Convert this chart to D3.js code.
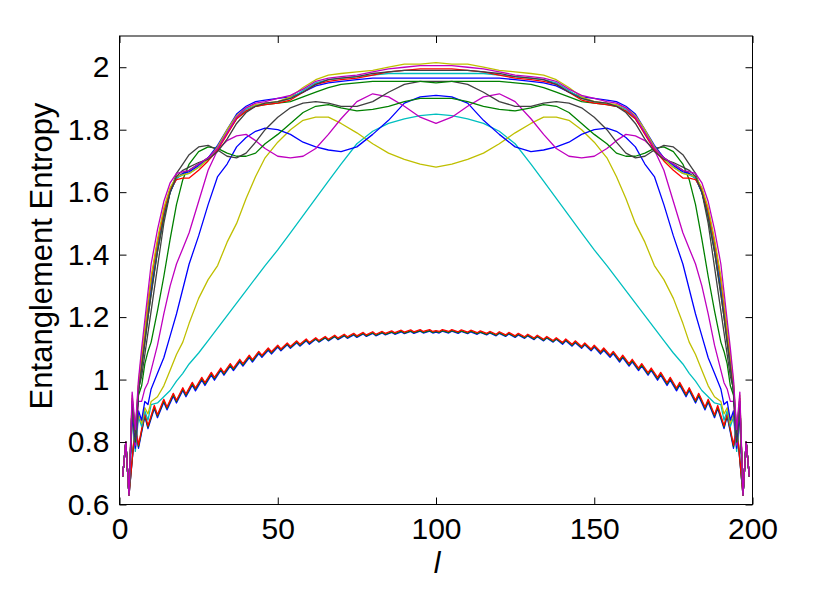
<!DOCTYPE html>
<html><head><meta charset="utf-8">
<script src="https://cdn.jsdelivr.net/npm/d3@7"></script>
<style>body{margin:0;background:#fff} text{font-family:"Liberation Sans",Arial,Helvetica,sans-serif;fill:#000}</style>
</head><body><svg id="c" width="830" height="591"></svg>
<script>
const xTicks=[0,50,100,150,200];
const yTicks=[0.6,0.8,1,1.2,1.4,1.6,1.8,2];
const xLabel="l", yLabel="Entanglement Entropy";

// grid for the upper curves
const lGrid=[1,2,3,4,5,6,7,8,9,10,12,14,16,18,20,22,25,28,31,34,37,40,43,46,50,54,58,62,66,70,75,80,85,90,95,100,
105,110,115,120,125,130,134,138,142,146,150,154,157,160,163,166,169,172,175,178,180,182,184,186,188,190,191,192,193,194,195,196,197,198,199];
// grid for the lower (oscillating) curves
const lSaw=[1,2,3,5,6,8,9,11,12,14,15,17,18,20,21,23,24,26,27,29,30,32,33,35,36,38,39,41,42,44,45,47,48,50,51,53,54,56,57,59,60,62,63,65,66,68,69,71,72,74,75,77,78,80,81,83,84,86,87,89,90,92,93,95,96,98,99,100,
101,102,104,105,107,108,110,111,113,114,116,117,119,120,122,123,125,126,128,129,131,132,134,135,137,138,140,141,143,144,146,147,149,150,152,153,155,156,158,159,161,162,164,165,167,168,170,171,173,174,176,177,179,180,182,183,185,186,188,189,191,192,194,195,197,198,199];

const lowBlue=[.69,.80,.63,.85,.78,.882,.843,.907,.878,.927,.903,.947,.925,.965,.945,.982,.964,.998,.981,1.014,.998,1.029,1.014,1.043,1.029,1.057,1.043,1.07,1.056,1.083,1.071,1.094,1.082,1.104,1.092,1.111,1.1,1.118,1.107,1.124,1.113,1.129,1.12,1.133,1.124,1.137,1.128,1.14,1.132,1.143,1.135,1.146,1.138,1.148,1.14,1.149,1.143,1.151,1.145,1.153,1.147,1.154,1.148,1.155,1.149,1.155,1.149,1.152,
1.149,1.155,1.149,1.155,1.148,1.154,1.147,1.153,1.145,1.151,1.143,1.149,1.14,1.148,1.138,1.146,1.135,1.143,1.132,1.14,1.128,1.137,1.124,1.133,1.12,1.129,1.113,1.124,1.107,1.118,1.1,1.111,1.092,1.104,1.082,1.094,1.071,1.083,1.056,1.07,1.043,1.057,1.029,1.043,1.014,1.029,.998,1.014,.981,.998,.964,.982,.945,.965,.925,.947,.903,.927,.878,.907,.843,.882,.78,.85,.63,.80,.69];
const lowGreen=[.69,.80,.63,.855,.785,.887,.848,.912,.883,.932,.908,.952,.93,.97,.95,.987,.969,1.003,.986,1.019,1.003,1.033,1.018,1.047,1.033,1.061,1.047,1.074,1.06,1.087,1.075,1.098,1.086,1.107,1.095,1.114,1.103,1.121,1.11,1.127,1.116,1.131,1.122,1.135,1.126,1.139,1.13,1.142,1.134,1.145,1.137,1.148,1.14,1.15,1.142,1.151,1.145,1.153,1.147,1.155,1.149,1.156,1.15,1.157,1.151,1.157,1.151,1.154,
1.151,1.157,1.151,1.157,1.15,1.156,1.149,1.155,1.147,1.153,1.145,1.151,1.142,1.15,1.14,1.148,1.137,1.145,1.134,1.142,1.13,1.139,1.126,1.135,1.122,1.131,1.116,1.127,1.11,1.121,1.103,1.114,1.095,1.107,1.086,1.098,1.075,1.087,1.06,1.074,1.047,1.061,1.033,1.047,1.018,1.033,1.003,1.019,.986,1.003,.969,.987,.95,.97,.93,.952,.908,.932,.883,.912,.848,.887,.785,.855,.63,.80,.69];
const lowRed=[.69,.80,.63,.86,.79,.892,.852,.917,.887,.937,.912,.956,.934,.974,.954,.991,.973,1.007,.99,1.023,1.007,1.037,1.022,1.051,1.037,1.065,1.051,1.078,1.064,1.09,1.078,1.101,1.089,1.11,1.098,1.117,1.106,1.124,1.113,1.13,1.119,1.134,1.125,1.138,1.129,1.142,1.133,1.145,1.137,1.148,1.14,1.151,1.143,1.153,1.145,1.154,1.148,1.156,1.15,1.158,1.152,1.159,1.153,1.16,1.154,1.16,1.154,1.157,
1.154,1.16,1.154,1.16,1.153,1.159,1.152,1.158,1.15,1.156,1.148,1.154,1.145,1.153,1.143,1.151,1.14,1.148,1.137,1.145,1.133,1.142,1.129,1.138,1.125,1.134,1.119,1.13,1.113,1.124,1.106,1.117,1.098,1.11,1.089,1.101,1.078,1.09,1.064,1.078,1.051,1.065,1.037,1.051,1.022,1.037,1.007,1.023,.99,1.007,.973,.991,.954,.974,.934,.956,.912,.937,.887,.917,.852,.892,.79,.86,.63,.80,.69];

const sCyanDome=[.69,.80,.63,.87,.77,.88,.85,.90,.87,.92,.925,.945,.965,.995,1.02,1.05,1.085,1.125,1.165,1.205,1.245,1.285,1.325,1.365,1.415,1.47,1.525,1.58,1.635,1.69,1.755,1.795,1.82,1.835,1.845,1.85,
1.845,1.835,1.82,1.795,1.755,1.69,1.635,1.58,1.525,1.47,1.415,1.365,1.325,1.285,1.245,1.205,1.165,1.125,1.085,1.05,1.02,.995,.965,.945,.925,.92,.87,.90,.85,.88,.77,.87,.63,.80,.69];
const sYellowHump=[.69,.80,.63,.88,.78,.89,.86,.91,.89,.93,.945,.98,1.03,1.08,1.12,1.18,1.26,1.32,1.365,1.44,1.50,1.58,1.65,1.71,1.76,1.80,1.83,1.84,1.84,1.82,1.79,1.755,1.725,1.705,1.69,1.68,
1.69,1.705,1.725,1.755,1.79,1.82,1.84,1.84,1.83,1.80,1.76,1.71,1.65,1.58,1.50,1.44,1.365,1.32,1.26,1.18,1.12,1.08,1.03,.98,.945,.93,.89,.91,.86,.89,.78,.88,.63,.80,.69];
const sBlueE=[.69,.80,.63,.89,.78,.90,.87,.93,.92,.97,1.02,1.07,1.14,1.21,1.29,1.37,1.46,1.56,1.65,1.69,1.745,1.775,1.795,1.805,1.80,1.785,1.76,1.745,1.735,1.73,1.745,1.785,1.83,1.885,1.905,1.91,
1.905,1.885,1.83,1.785,1.745,1.73,1.735,1.745,1.76,1.785,1.80,1.805,1.795,1.775,1.745,1.69,1.65,1.56,1.46,1.37,1.29,1.21,1.14,1.07,1.02,.97,.92,.93,.87,.90,.78,.89,.63,.80,.69];
const sMagentaD=[.69,.80,.63,.91,.79,.93,.93,.97,.99,1.03,1.11,1.21,1.30,1.37,1.42,1.47,1.57,1.67,1.735,1.765,1.78,1.785,1.765,1.74,1.715,1.71,1.715,1.74,1.785,1.835,1.89,1.915,1.905,1.875,1.84,1.82,
1.84,1.875,1.905,1.915,1.89,1.835,1.785,1.74,1.715,1.71,1.715,1.74,1.765,1.785,1.78,1.765,1.735,1.67,1.57,1.47,1.42,1.37,1.30,1.21,1.11,1.03,.99,.97,.93,.93,.79,.91,.63,.80,.69];
const sGreenF=[.69,.80,.63,.92,.80,.95,.98,1.05,1.09,1.12,1.22,1.33,1.45,1.56,1.64,1.69,1.73,1.745,1.74,1.725,1.715,1.715,1.725,1.755,1.785,1.82,1.855,1.875,1.88,1.87,1.86,1.865,1.875,1.89,1.90,1.90,
1.90,1.89,1.875,1.865,1.86,1.87,1.88,1.875,1.855,1.82,1.785,1.755,1.725,1.715,1.715,1.725,1.74,1.745,1.73,1.69,1.64,1.56,1.45,1.33,1.22,1.12,1.09,1.05,.98,.95,.80,.92,.63,.80,.69];
const sGrayG=[.69,.80,.63,.93,.81,.97,1.01,1.08,1.15,1.22,1.36,1.5,1.6,1.66,1.69,1.72,1.745,1.75,1.735,1.715,1.71,1.725,1.76,1.8,1.84,1.87,1.885,1.89,1.885,1.875,1.875,1.89,1.92,1.945,1.955,1.955,
1.955,1.945,1.92,1.89,1.875,1.875,1.885,1.89,1.885,1.87,1.84,1.8,1.76,1.725,1.71,1.715,1.735,1.75,1.745,1.72,1.69,1.66,1.6,1.5,1.36,1.22,1.15,1.08,1.01,.97,.81,.93,.63,.80,.69];
const sGreenB=[.69,.80,.63,.93,.82,.96,1.04,1.12,1.2,1.28,1.41,1.52,1.6,1.645,1.66,1.67,1.69,1.71,1.745,1.79,1.835,1.86,1.875,1.88,1.885,1.89,1.905,1.92,1.935,1.945,1.95,1.955,1.955,1.955,1.955,1.95,
1.955,1.955,1.955,1.955,1.95,1.945,1.935,1.92,1.905,1.89,1.885,1.88,1.875,1.86,1.835,1.79,1.745,1.71,1.69,1.67,1.66,1.645,1.6,1.52,1.41,1.28,1.2,1.12,1.04,.96,.82,.93,.63,.80,.69];
const sBlueB=[.69,.80,.63,.93,.82,.97,1.05,1.13,1.22,1.3,1.42,1.53,1.6,1.645,1.66,1.665,1.685,1.71,1.75,1.8,1.85,1.875,1.89,1.895,1.9,1.905,1.92,1.94,1.95,1.955,1.96,1.965,1.965,1.965,1.965,1.965,
1.965,1.965,1.965,1.965,1.96,1.955,1.95,1.94,1.92,1.905,1.9,1.895,1.89,1.875,1.85,1.8,1.75,1.71,1.685,1.665,1.66,1.645,1.6,1.53,1.42,1.3,1.22,1.13,1.05,.97,.82,.93,.63,.80,.69];
const sCyanB=[.69,.80,.63,.94,.83,.98,1.06,1.14,1.23,1.31,1.43,1.53,1.605,1.645,1.655,1.66,1.68,1.705,1.74,1.79,1.84,1.865,1.878,1.882,1.888,1.9,1.925,1.95,1.96,1.965,1.97,1.975,1.98,1.98,1.98,1.98,
1.98,1.98,1.98,1.975,1.97,1.965,1.96,1.95,1.925,1.9,1.888,1.882,1.878,1.865,1.84,1.79,1.74,1.705,1.68,1.66,1.655,1.645,1.605,1.53,1.43,1.31,1.23,1.14,1.06,.98,.83,.94,.63,.80,.69];
const sRedB=[.69,.80,.63,.94,.83,.98,1.07,1.15,1.24,1.32,1.44,1.54,1.61,1.64,1.645,1.645,1.67,1.70,1.735,1.785,1.835,1.86,1.875,1.88,1.885,1.895,1.92,1.945,1.955,1.96,1.965,1.975,1.985,1.99,1.995,1.995,
1.995,1.99,1.985,1.975,1.965,1.96,1.955,1.945,1.92,1.895,1.885,1.88,1.875,1.86,1.835,1.785,1.735,1.70,1.67,1.645,1.645,1.64,1.61,1.54,1.44,1.32,1.24,1.15,1.07,.98,.83,.94,.63,.80,.69];
const sYellowB=[.69,.80,.63,.95,.83,.99,1.08,1.16,1.25,1.33,1.45,1.55,1.615,1.65,1.655,1.66,1.68,1.705,1.745,1.8,1.845,1.87,1.88,1.885,1.89,1.905,1.935,1.96,1.975,1.98,1.985,1.99,2.0,2.01,2.01,2.015,
2.01,2.01,2.0,1.99,1.985,1.98,1.975,1.96,1.935,1.905,1.89,1.885,1.88,1.87,1.845,1.8,1.745,1.705,1.68,1.66,1.655,1.65,1.615,1.55,1.45,1.33,1.25,1.16,1.08,.99,.83,.95,.63,.80,.69];
const sGrayB=[.69,.80,.63,.93,.82,.96,1.04,1.12,1.2,1.27,1.41,1.52,1.6,1.65,1.67,1.68,1.695,1.705,1.73,1.77,1.82,1.855,1.875,1.885,1.89,1.9,1.92,1.945,1.96,1.965,1.97,1.98,1.985,1.99,1.99,1.99,
1.99,1.99,1.985,1.98,1.97,1.965,1.96,1.945,1.92,1.9,1.89,1.885,1.875,1.855,1.82,1.77,1.73,1.705,1.695,1.68,1.67,1.65,1.6,1.52,1.41,1.27,1.2,1.12,1.04,.96,.82,.93,.63,.80,.69];
const sMagentaB=[.69,.80,.63,.96,.84,1.0,1.1,1.19,1.28,1.37,1.48,1.57,1.63,1.66,1.665,1.67,1.69,1.71,1.74,1.79,1.84,1.87,1.885,1.89,1.9,1.91,1.93,1.955,1.965,1.97,1.975,1.985,1.995,2.0,2.005,2.005,
2.005,2.0,1.995,1.985,1.975,1.97,1.965,1.955,1.93,1.91,1.9,1.89,1.885,1.87,1.84,1.79,1.74,1.71,1.69,1.67,1.665,1.66,1.63,1.57,1.48,1.37,1.28,1.19,1.1,1.0,.84,.96,.63,.80,.69];

const C={b:"#0000ff",g:"#008000",r:"#ff0000",c:"#00bfbf",m:"#bf00bf",y:"#bfbf00",k:"#404040"};
const series=[
 {x:lSaw,y:lowBlue,c:C.b},{x:lSaw,y:lowGreen,c:C.g},{x:lSaw,y:lowRed,c:C.r},
 {x:lGrid,y:sCyanDome,c:C.c},{x:lGrid,y:sYellowHump,c:C.y},{x:lGrid,y:sBlueE,c:C.b},
 {x:lGrid,y:sMagentaD,c:C.m},{x:lGrid,y:sGreenF,c:C.g},{x:lGrid,y:sGrayG,c:C.k},
 {x:lGrid,y:sGreenB,c:C.g},{x:lGrid,y:sBlueB,c:C.b},{x:lGrid,y:sCyanB,c:C.c},
 {x:lGrid,y:sRedB,c:C.r},{x:lGrid,y:sYellowB,c:C.y},{x:lGrid,y:sGrayB,c:C.k},{x:lGrid,y:sMagentaB,c:C.m}
];

const svg=d3.select("#c");
const L=119.5,R=752.5,T=36,B=504.5;
const x=d3.scaleLinear().domain([0,200]).range([L,R]);
const y=d3.scaleLinear().domain([0.6,2.1]).range([B,T]);

svg.append("clipPath").attr("id","cp").append("rect").attr("x",L).attr("y",T).attr("width",R-L).attr("height",B-T);
const g=svg.append("g").attr("clip-path","url(#cp)");
const line=d3.line().x(d=>x(d[0])).y(d=>y(d[1]));
series.forEach(s=>{
  g.append("path").datum(s.x.map((v,i)=>[v,s.y[i]])).attr("d",line)
   .attr("fill","none").attr("stroke",s.c).attr("stroke-width",1.3).attr("stroke-linejoin","round");
});

const tl=7, fs=30;
svg.append("g").attr("transform",`translate(0,${B})`)
  .call(d3.axisBottom(x).tickValues(xTicks).tickSizeInner(-tl).tickSizeOuter(0).tickPadding(13).tickFormat(d3.format("d")))
  .call(a=>{a.select(".domain").remove();a.selectAll("line").attr("stroke","#000");a.selectAll("text").attr("font-size",fs).attr("font-family","Liberation Sans, Arial, sans-serif");});
svg.append("g").attr("transform",`translate(0,${T})`)
  .call(d3.axisTop(x).tickValues(xTicks).tickSizeInner(-tl).tickSizeOuter(0).tickFormat(""))
  .call(a=>{a.select(".domain").remove();a.selectAll("line").attr("stroke","#000");});
svg.append("g").attr("transform",`translate(${L},0)`)
  .call(d3.axisLeft(y).tickValues(yTicks).tickSizeInner(-tl).tickSizeOuter(0).tickPadding(10).tickFormat(d=>d3.format("")(+d.toFixed(1))))
  .call(a=>{a.select(".domain").remove();a.selectAll("line").attr("stroke","#000");a.selectAll("text").attr("font-size",fs).attr("font-family","Liberation Sans, Arial, sans-serif");});
svg.append("g").attr("transform",`translate(${R},0)`)
  .call(d3.axisRight(y).tickValues(yTicks).tickSizeInner(-tl).tickSizeOuter(0).tickFormat(""))
  .call(a=>{a.select(".domain").remove();a.selectAll("line").attr("stroke","#000");});
svg.append("rect").attr("x",L).attr("y",T).attr("width",R-L).attr("height",B-T).attr("fill","none").attr("stroke","#000").attr("stroke-width",1);

svg.append("text").attr("x",437).attr("y",573).attr("text-anchor","middle").attr("font-size",30).attr("font-style","italic").text(xLabel);
svg.append("text").attr("transform","translate(52,256) rotate(-90)").attr("text-anchor","middle").attr("font-size",31).text(yLabel);
</script></body></html>
